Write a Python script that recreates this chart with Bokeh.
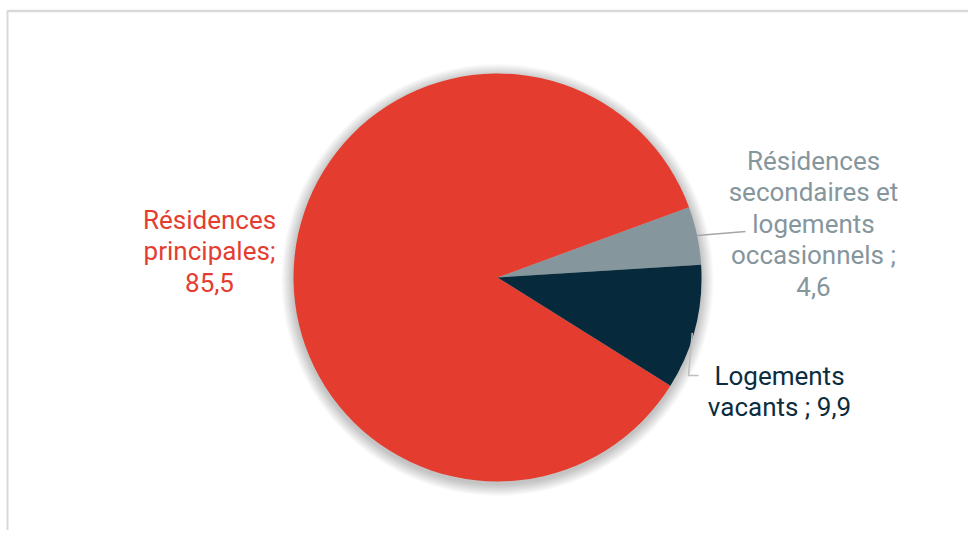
import math
from bokeh.plotting import figure
from bokeh.models import Range1d, ColumnDataSource
from bokeh.core.properties import value
from bokeh.embed import file_html
from bokeh.resources import INLINE

# ---- data ----
categories = ["Résidences secondaires et logements occasionnels",
              "Résidences principales",
              "Logements vacants"]
values = [4.6, 85.5, 9.9]
label_lines = [["Résidences", "secondaires et", "logements", "occasionnels ;"],
               ["Résidences", "principales;"],
               ["Logements", "vacants ;"]]
colors = ["#85969D", "#E43D30", "#062A3B"]
text_colors = ["#85969D", "#E43D30", "#0B2D3F"]

# ---- layout (screen pixel coordinates) ----
W, H = 968, 530
X0, Y0 = 0, 0


def sy(y):
    return (Y0 + H) - y


cx, cy, r = 497, 277, 204
start_deg = 3.6
label_pos = [(813, 160), (209, 219), (779, 375)]
line_gap = 31.5

p = figure(width=W, height=H, output_backend="svg", toolbar_location=None,
           x_range=Range1d(X0, X0 + W), y_range=Range1d(0, H),
           min_border=0, outline_line_color=None)
p.axis.visible = False
p.grid.visible = False
p.background_fill_color = "white"
p.border_fill_color = "white"

# frame border (top & left visible)
p.line(x=[7, 7], y=[sy(10), sy(560)], line_color="#d9d9d9", line_width=2)
p.line(x=[7, 1000], y=[sy(10.5), sy(10.5)], line_color="#d9d9d9", line_width=2.5)

# soft shadow
for k in range(1, 13):
    p.circle(x=[cx], y=[sy(cy + 2.5)], radius=r + k, fill_color="black",
             fill_alpha=0.018, line_color=None)

# wedges
total = sum(values)
starts, ends = [], []
a = math.radians(start_deg)
for v in values:
    starts.append(a)
    a += v / total * 2 * math.pi
    ends.append(a)
src = ColumnDataSource(dict(cat=categories, val=values, start=starts, end=ends, color=colors))
p.wedge(x=cx, y=sy(cy), radius=r, start_angle="start", end_angle="end",
        fill_color="color", line_color=None, direction="anticlock", source=src)

# labels
for i, lines in enumerate(label_lines):
    vtxt = f"{values[i]:.1f}".replace(".", ",")
    lines = list(lines)
    if i == 2:
        lines[-1] = lines[-1] + " " + vtxt
    else:
        lines = lines + [vtxt]
    lx, ly = label_pos[i]
    ys = [sy(ly + j * line_gap) for j in range(len(lines))]
    p.text(x=[lx] * len(lines), y=ys, text=lines, text_color=text_colors[i],
           text_font=value("Roboto"), text_font_size="26px",
           text_align="center", text_baseline="alphabetic")

# leader lines
mid0 = (starts[0] + ends[0]) / 2
gx, gy = cx + r * math.cos(mid0), cy - r * math.sin(mid0)
p.line(x=[gx, 745], y=[sy(gy), sy(231)], line_color="#A6A6A6", line_width=1.5)
mid2 = (starts[2] + ends[2]) / 2
dx, dy = cx + 0.985 * r * math.cos(mid2), cy - 0.985 * r * math.sin(mid2)
p.line(x=[dx, 688, 698], y=[sy(dy + 6), sy(375), sy(375)], line_color="#BFBFBF", line_width=1.5)

open("out.html", "w").write(file_html(p, INLINE))
